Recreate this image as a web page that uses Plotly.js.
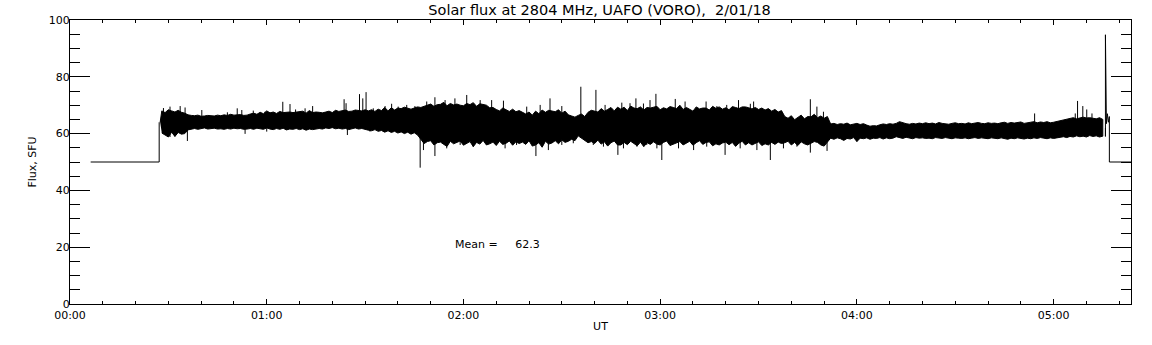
<!DOCTYPE html>
<html>
<head>
<meta charset="utf-8">
<script src="https://cdn.plot.ly/plotly-3.0.1.min.js"></script>
<style>html,body{margin:0;padding:0;background:#fff;}#chart{width:1152px;height:345px;}</style>
</head>
<body>
<div id="chart"></div>
<script>
// ---- Data (time in minutes UT, flux in SFU) ----
const headTimes = [6.3, 27.2, 27.2];
const headFlux  = [50, 50, 64];

const noiseStart = 28; // first envelope sample (minutes), one sample per minute
// typical upper / lower edge of the noisy band, one value per minute
const fluxHigh = [
  68.0, 67.4, 68.4, 68.0, 67.6, 68.2, 67.5, 67.2, 66.6, 66.4,
  66.3, 66.5, 66.1, 66.2, 66.4, 66.3, 66.2, 66.5, 66.3, 66.6,
  66.4, 66.8, 66.5, 66.6, 66.7, 66.4, 66.5, 66.9, 67.2, 66.8,
  67.5, 67.0, 68.0, 67.3, 67.6, 67.1, 67.8, 67.4, 67.5, 67.6,
  67.4, 67.5, 67.6, 67.9, 67.2, 68.1, 67.4, 67.6, 67.5, 67.3,
  67.6, 67.9, 67.4, 68.2, 67.8, 68.0, 68.3, 67.8, 67.9, 68.3,
  68.2, 68.0, 68.4, 68.0, 68.4, 67.8, 68.6, 68.1, 69.2, 68.0,
  69.1, 68.3, 69.0, 68.8, 69.3, 69.0, 68.6, 69.0, 69.4, 69.2,
  69.6, 70.0, 70.4, 69.6, 70.2, 70.3, 71.0, 69.8, 70.6, 70.1,
  70.4, 70.0, 69.8, 70.6, 70.2, 70.9, 69.6, 70.5, 70.3, 70.0,
  69.1, 69.2, 68.5, 68.0, 69.0, 68.3, 67.8, 68.6, 67.7, 68.1,
  67.4, 66.9, 67.6, 66.5, 67.9, 67.0, 68.3, 67.5, 68.2, 68.0,
  67.7, 68.4, 67.2, 67.9, 66.6, 66.2, 65.8, 66.4, 66.9, 66.0,
  67.5, 68.2, 68.0, 67.6, 68.8, 67.9, 68.5, 69.2, 68.0, 69.3,
  68.6, 69.3, 68.1, 69.7, 69.0, 68.8, 69.4, 68.3, 69.2, 69.0,
  69.3, 69.6, 68.4, 69.1, 68.7, 69.5, 69.2, 68.8, 70.0, 68.5,
  69.2, 68.6, 67.9, 69.4, 68.7, 69.0, 69.0, 68.3, 69.6, 68.9,
  69.4, 68.6, 69.1, 68.4, 69.5, 69.2, 68.8, 69.4, 69.4, 69.1,
  68.7, 69.2, 68.5, 69.0, 68.3, 68.8, 67.9, 68.5, 67.6, 68.1,
  66.0, 65.4, 66.3, 64.9, 65.8, 66.5, 65.2, 66.0, 65.9, 66.8,
  65.6, 66.2, 65.4, 66.0,
  63.4, 63.6, 63.2, 63.5, 63.3, 63.7, 63.1, 63.4, 63.6, 63.2,
  63.5, 63.0, 62.6, 62.8, 62.7, 63.1, 63.4, 63.2, 63.5, 63.3,
  63.6, 64.2, 63.8, 63.5, 63.3, 63.6, 63.4, 63.7, 63.5, 63.8,
  63.5, 63.7, 63.4, 63.9, 63.6, 63.5, 63.3, 63.6, 63.8, 63.5,
  63.6, 63.4, 63.8, 63.5, 63.7, 63.9, 63.6, 63.5, 63.8, 63.6,
  63.7, 63.5, 63.8, 64.0, 63.6, 63.9, 63.7, 63.8, 64.1, 63.6,
  63.9, 64.0, 64.2, 63.8, 64.1, 63.9, 64.2, 63.8, 64.0, 64.3,
  64.5, 64.8, 65.0, 65.3, 65.6, 65.2, 65.4, 65.8, 65.5, 65.6,
  65.4, 65.2, 65.6, 65.0
];
const fluxLow = [
  60.2, 59.5, 58.8, 60.5, 59.0, 60.4, 59.8, 60.0, 61.3, 61.6,
  61.8, 61.5, 61.7, 62.0, 61.6, 61.8, 61.9, 61.6, 61.7, 61.5,
  61.8, 61.6, 61.9, 61.7, 61.8, 61.5, 61.6, 61.8, 61.5, 61.9,
  61.7, 61.5, 62.0, 61.6, 61.4, 61.8, 61.5, 61.9, 61.3, 61.6,
  61.5, 61.8, 61.4, 61.7, 61.2, 61.6, 61.4, 61.5, 61.8, 61.6,
  62.0, 61.8, 62.1, 61.7, 61.9, 61.6, 61.8, 61.4, 61.7, 62.0,
  61.6, 61.8, 61.5, 61.2, 61.0, 61.4, 60.8, 61.1, 60.5, 61.0,
  60.4, 60.8, 60.2, 60.6, 60.0, 60.5, 59.8, 60.3, 59.5, 58.0,
  56.5, 57.2, 57.5, 56.0, 56.8, 57.0, 56.2, 55.5, 57.3, 56.4,
  56.8, 57.4, 55.9, 56.6, 57.2, 55.4, 56.9, 56.3, 57.6, 56.0,
  56.4, 57.0, 55.8, 57.3, 56.2, 56.6, 57.4, 55.9, 57.1, 56.5,
  57.0, 56.2, 57.5, 55.6, 56.0, 56.8, 55.2, 57.3, 56.3, 56.7,
  57.5, 56.4, 57.8, 56.9, 57.3, 58.0, 57.5, 59.2, 58.3, 57.6,
  56.8, 57.2, 56.5, 57.7, 56.3, 57.1, 55.6, 56.8, 57.4, 56.0,
  56.0, 56.9, 56.1, 57.3, 56.5, 55.7, 57.0, 55.4, 56.8, 56.2,
  57.1, 56.3, 56.0, 56.9, 57.4, 55.8, 56.2, 56.7, 57.2, 56.0,
  56.5, 57.3, 55.9, 56.8, 57.5, 56.2, 56.9, 57.1, 55.7, 56.4,
  56.0, 56.7, 57.0, 56.1, 56.9, 55.5, 56.6, 57.3, 56.0, 56.8,
  56.0, 56.6, 57.1, 55.8, 56.4, 56.0, 56.9, 56.2, 57.0, 56.5,
  56.8, 57.3, 56.0, 56.9, 55.8, 57.1, 56.4, 56.0, 56.7, 57.2,
  56.9, 56.0, 55.6, 57.0,
  58.4, 58.0, 58.5, 58.2, 57.6, 58.3, 58.1, 58.6, 57.2, 58.4,
  58.2, 58.5, 58.0, 58.4, 58.3, 58.6, 58.1, 58.5, 58.2, 58.4,
  58.9, 58.5, 58.3, 58.7, 58.4, 58.2, 58.6, 58.4, 58.5, 58.3,
  58.4, 58.2, 58.6, 58.5, 58.3, 58.6, 58.4, 58.2, 58.5, 58.4,
  58.3, 58.5, 58.2, 58.4, 58.6, 58.3, 58.5, 58.4, 58.2, 58.5,
  58.4, 58.2, 58.5, 58.3, 58.0, 58.4, 58.2, 58.5, 58.3, 58.1,
  58.4, 58.2, 58.5, 58.3, 58.6, 58.4, 58.2, 58.5, 58.3, 58.6,
  58.7, 58.9, 58.6, 59.0, 58.8, 59.2, 58.9, 59.1, 58.8, 59.3,
  59.0, 59.2, 58.8, 59.1
];

// isolated spikes above the band (minutes, SFU)
const upSpikeTimes = [28.5, 30.5, 33.6, 35.1, 40.2, 48.0, 51.0, 52.4, 55.9, 59.5, 64.9, 67.1, 68.8, 71.7, 74.0,
  83.6, 84.2, 88.3, 89.3, 90.3, 92.5, 96.1, 98.1, 100.1, 102.7, 105.2, 108.8, 111.3, 114.4, 117.4, 121.0, 125.1,
  128.6, 132.2, 139.3, 143.4, 146.4, 150.0, 155.8, 160.4, 163.2, 168.3, 170.8, 172.6, 174.9, 176.9, 178.7,
  184.6, 187.6, 194.0, 197.3, 200.3, 203.9, 207.5, 208.5, 213.6, 225.8, 227.8, 229.8,
  294.2, 306.6, 307.3, 308.9, 310.1, 311.7];
const upSpikeFlux  = [69.0, 69.5, 69.7, 69.2, 68.3, 67.5, 68.9, 68.3, 68.1, 67.7, 71.2, 70.4, 68.5, 68.9, 69.7,
  72.1, 70.7, 73.9, 72.4, 74.6, 68.9, 69.7, 70.5, 69.5, 70.1, 69.7, 71.3, 72.8, 71.8, 72.4, 73.6, 71.8,
  71.8, 71.6, 69.5, 70.1, 72.4, 69.7, 76.5, 75.4, 70.1, 70.9, 70.7, 72.4, 70.6, 71.8, 74.0,
  72.2, 71.3, 71.3, 69.7, 70.1, 71.8, 70.5, 71.3, 68.3, 72.1, 69.5, 67.7,
  67.1, 67.1, 71.5, 69.7, 68.5, 67.1];
// isolated spikes below the band
const downSpikeTimes = [30.5, 32.0, 35.8, 53.4, 60.0, 84.6, 91.5, 106.8, 107.8, 111.3, 114.9, 119.0, 123.0, 127.1,
  132.7, 136.2, 139.3, 142.1, 145.9, 150.0, 153.5, 159.6, 162.7, 167.1, 168.8, 172.9, 175.9, 179.0,
  180.5, 185.6, 190.2, 194.2, 199.8, 204.4, 209.5, 213.6, 217.6, 221.7, 225.8, 230.9, 240.0];
const downSpikeFlux  = [58.8, 59.0, 57.4, 59.9, 60.7, 59.5, 60.7, 48.0, 54.2, 52.1, 54.8, 56.0, 55.4, 56.6,
  54.8, 56.0, 56.6, 52.1, 54.2, 56.0, 56.6, 56.0, 55.4, 52.5, 54.8, 55.4, 56.0, 54.8,
  50.7, 54.8, 54.2, 55.4, 52.5, 54.8, 54.2, 50.7, 54.8, 55.4, 53.3, 53.9, 57.2];

const tailTimes = [315.8, 315.8, 315.8, 316.1, 316.4, 316.7, 317.0, 317.0, 323.6];
const tailFlux  = [62.0, 59.0, 94.8, 63.5, 67.0, 64.0, 66.0, 50.0, 50.0];

const xTickVals = [0, 60, 120, 180, 240, 300];
const xTickText = ['00:00', '01:00', '02:00', '03:00', '04:00', '05:00'];
const meanText = 'Mean =     62.3';

// ---- Build traces ----
// band polygon: upper edge forward, lower edge backward
const bandX = [27.5], bandY = [64];
for (let i = 0; i < fluxHigh.length; i++) {
  bandX.push(noiseStart + i); bandY.push(fluxHigh[i]);
}
for (let i = fluxLow.length - 1; i >= 0; i--) {
  bandX.push(noiseStart + i); bandY.push(fluxLow[i]);
}

const spikeBase = 62;
const spikeX = [], spikeY = [];
upSpikeTimes.forEach((t, i) => { spikeX.push(t, t, null); spikeY.push(spikeBase, upSpikeFlux[i], null); });
downSpikeTimes.forEach((t, i) => { spikeX.push(t, t, null); spikeY.push(spikeBase, downSpikeFlux[i], null); });

const lineX = [...headTimes, null, ...tailTimes];
const lineY = [...headFlux, null, ...tailFlux];

const font = 'DejaVu Sans, sans-serif';
const traces = [
  {x: bandX, y: bandY, type: 'scatter', mode: 'lines', fill: 'toself',
   fillcolor: '#000', line: {width: 1, color: '#000'}, hoverinfo: 'skip', showlegend: false},
  {x: spikeX, y: spikeY, type: 'scatter', mode: 'lines',
   line: {width: 1, color: '#000'}, connectgaps: false, showlegend: false},
  {x: lineX, y: lineY, type: 'scatter', mode: 'lines',
   line: {width: 1, color: '#000'}, connectgaps: false, showlegend: false}
];

const axisCommon = {
  showline: true, linecolor: '#000', linewidth: 1, mirror: 'ticks',
  ticks: 'inside', tickcolor: '#000', tickwidth: 1,
  showgrid: false, zeroline: false,
  tickfont: {family: font, size: 11, color: '#000'}
};

const layout = {
  width: 1152, height: 345,
  margin: {l: 70, r: 21, t: 20, b: 41, pad: 0},
  paper_bgcolor: '#fff', plot_bgcolor: '#fff',
  title: {text: 'Solar flux at 2804 MHz, UAFO (VORO),\u00a0\u00a02/01/18',
          font: {family: font, size: 14.5, color: '#000'},
          x: 0.5205, xanchor: 'center', y: 0.97, yref: 'container', yanchor: 'middle'},
  xaxis: Object.assign({}, axisCommon, {
    range: [0, 323.6], tickmode: 'array', tickvals: xTickVals, ticktext: xTickText,
    ticklen: 5, ticklabelstandoff: 1,
    minor: {dtick: 10, tick0: 0, ticklen: 3, ticks: 'inside', tickcolor: '#000', tickwidth: 1, showgrid: false},
    title: {text: 'UT', font: {family: font, size: 11, color: '#000'}, standoff: 1}
  }),
  yaxis: Object.assign({}, axisCommon, {
    range: [0, 100], tickmode: 'linear', tick0: 0, dtick: 20,
    ticklen: 20, ticklabelstandoff: -3,
    minor: {dtick: 5, tick0: 0, ticklen: 10, ticks: 'inside', tickcolor: '#000', tickwidth: 1, showgrid: false},
    title: {text: 'Flux, SFU', font: {family: font, size: 11, color: '#000'}, standoff: 9}
  }),
  annotations: [{
    x: 116.7, y: 21.1, xref: 'x', yref: 'y', text: meanText.replace(/ /g, '\u00a0'),
    showarrow: false, xanchor: 'left', yanchor: 'middle',
    font: {family: font, size: 11, color: '#000'}
  }]
};

Plotly.newPlot('chart', traces, layout, {displayModeBar: false, staticPlot: true});
</script>
</body>
</html>
